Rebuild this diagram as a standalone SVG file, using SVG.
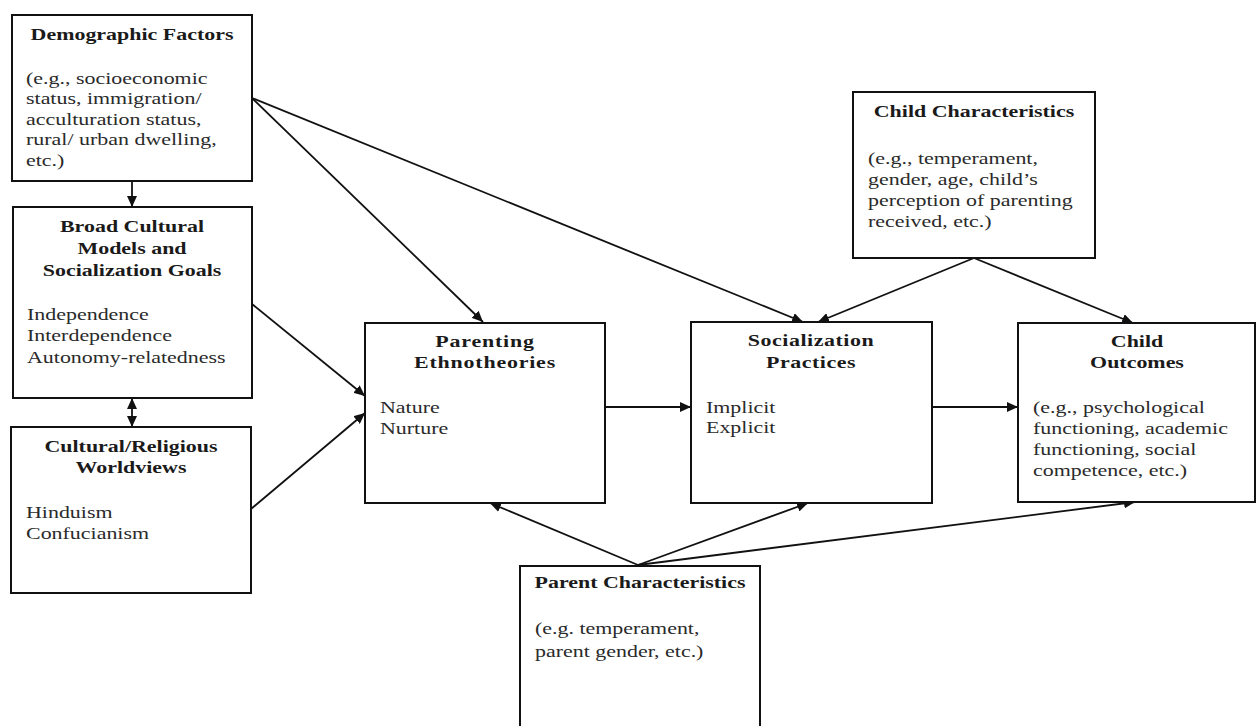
<svg xmlns="http://www.w3.org/2000/svg" width="1256" height="726" viewBox="0 0 1256 726">
<style>
.box{fill:#fff;stroke:#111;stroke-width:2}
.t{font-family:"Liberation Serif","Times New Roman",serif;font-size:16.5px;font-weight:bold;fill:#1a1a1a;text-anchor:middle}
.b{font-family:"Liberation Serif","Times New Roman",serif;font-size:16.5px;fill:#2a2a2a}
.c{fill:none;stroke:#111;stroke-width:1.8}
</style>
<defs>
<marker id="ah" markerUnits="userSpaceOnUse" markerWidth="12" markerHeight="10" refX="11" refY="5" orient="auto-start-reverse">
<path d="M0,0 L11,5 L0,10 Z" fill="#111"/>
</marker>
</defs>
<rect width="1256" height="726" fill="#fff"/>
<g id="connectors">
<line class="c" x1="132" y1="181" x2="132" y2="207" marker-end="url(#ah)"/>
<line class="c" x1="132" y1="398" x2="132" y2="427" marker-start="url(#ah)" marker-end="url(#ah)"/>
<line class="c" x1="252" y1="98" x2="483" y2="322" marker-end="url(#ah)"/>
<line class="c" x1="252" y1="98" x2="803" y2="322" marker-end="url(#ah)"/>
<line class="c" x1="252" y1="304" x2="365" y2="396" marker-end="url(#ah)"/>
<line class="c" x1="251" y1="509" x2="365" y2="413" marker-end="url(#ah)"/>
<line class="c" x1="605" y1="407" x2="691" y2="407" marker-end="url(#ah)"/>
<line class="c" x1="932" y1="407" x2="1018" y2="407" marker-end="url(#ah)"/>
<line class="c" x1="974" y1="258" x2="818" y2="322" marker-end="url(#ah)"/>
<line class="c" x1="974" y1="258" x2="1133" y2="323" marker-end="url(#ah)"/>
<line class="c" x1="638" y1="565" x2="490" y2="503" marker-end="url(#ah)"/>
<line class="c" x1="638" y1="565" x2="808" y2="503" marker-end="url(#ah)"/>
<line class="c" x1="638" y1="565" x2="1135" y2="502" marker-end="url(#ah)"/>
</g>
<g id="demographic">
<rect class="box" x="12" y="15" width="240" height="166"/>
<text class="t" transform="translate(132,40) scale(1.33,1)">Demographic Factors</text>
<text class="b" transform="translate(26,84) scale(1.33,1)"><tspan x="0" y="0">(e.g., socioeconomic</tspan><tspan x="0" y="20.5">status, immigration/</tspan><tspan x="0" y="41">acculturation status,</tspan><tspan x="0" y="61.5">rural/ urban dwelling,</tspan><tspan x="0" y="82">etc.)</tspan></text>
</g>
<g id="broad-cultural">
<rect class="box" x="13" y="207" width="239" height="191"/>
<text class="t" transform="translate(132,232) scale(1.33,1)"><tspan x="0" y="0">Broad Cultural</tspan><tspan x="0" y="22">Models and</tspan><tspan x="0" y="44">Socialization Goals</tspan></text>
<text class="b" transform="translate(27,320) scale(1.33,1)"><tspan x="0" y="0">Independence</tspan><tspan x="0" y="21.5">Interdependence</tspan><tspan x="0" y="43">Autonomy-relatedness</tspan></text>
</g>
<g id="cultural-religious">
<rect class="box" x="11" y="427" width="240" height="166"/>
<text class="t" transform="translate(131,452) scale(1.33,1)"><tspan x="0" y="0">Cultural/Religious</tspan><tspan x="0" y="21">Worldviews</tspan></text>
<text class="b" transform="translate(26,518) scale(1.33,1)"><tspan x="0" y="0">Hinduism</tspan><tspan x="0" y="21">Confucianism</tspan></text>
</g>
<g id="parenting">
<rect class="box" x="365" y="323" width="240" height="180"/>
<text class="t" transform="translate(485,347) scale(1.33,1)" letter-spacing="0.6"><tspan x="0" y="0">Parenting</tspan><tspan x="0" y="21">Ethnotheories</tspan></text>
<text class="b" transform="translate(380,413) scale(1.33,1)"><tspan x="0" y="0">Nature</tspan><tspan x="0" y="21">Nurture</tspan></text>
</g>
<g id="socialization">
<rect class="box" x="691" y="322" width="241" height="181"/>
<text class="t" transform="translate(811,346) scale(1.33,1)" letter-spacing="0.4"><tspan x="0" y="0">Socialization</tspan><tspan x="0" y="22">Practices</tspan></text>
<text class="b" transform="translate(706,413) scale(1.33,1)"><tspan x="0" y="0">Implicit</tspan><tspan x="0" y="20">Explicit</tspan></text>
</g>
<g id="child-outcomes">
<rect class="box" x="1018" y="323" width="237" height="179"/>
<text class="t" transform="translate(1137,347) scale(1.33,1)"><tspan x="0" y="0">Child</tspan><tspan x="0" y="21">Outcomes</tspan></text>
<text class="b" transform="translate(1033,413) scale(1.33,1)"><tspan x="0" y="0">(e.g., psychological</tspan><tspan x="0" y="21">functioning, academic</tspan><tspan x="0" y="42">functioning, social</tspan><tspan x="0" y="63">competence, etc.)</tspan></text>
</g>
<g id="child-characteristics">
<rect class="box" x="853" y="92" width="242" height="166"/>
<text class="t" transform="translate(974,117) scale(1.33,1)">Child Characteristics</text>
<text class="b" transform="translate(868,164) scale(1.33,1)"><tspan x="0" y="0">(e.g., temperament,</tspan><tspan x="0" y="21">gender, age, child’s</tspan><tspan x="0" y="42">perception of parenting</tspan><tspan x="0" y="63">received, etc.)</tspan></text>
</g>
<g id="parent-characteristics">
<rect class="box" x="520" y="566" width="240" height="180"/>
<text class="t" transform="translate(640,588) scale(1.33,1)">Parent Characteristics</text>
<text class="b" transform="translate(535,634) scale(1.33,1)"><tspan x="0" y="0">(e.g. temperament,</tspan><tspan x="0" y="23">parent gender, etc.)</tspan></text>
</g>
</svg>
